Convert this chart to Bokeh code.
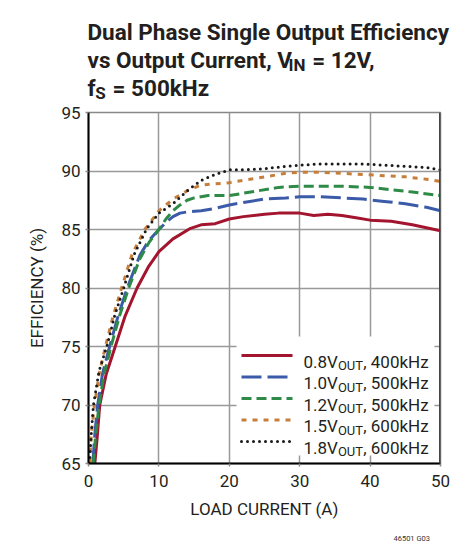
from bokeh.plotting import figure
from bokeh.models import Range1d, Span
from bokeh.layouts import column
from bokeh.core.properties import value
from bokeh.embed import file_html
from bokeh.resources import INLINE

# ---------------- data ----------------
x_ticks = [0, 10, 20, 30, 40, 50]
y_ticks = [65, 70, 75, 80, 85, 90, 95]

vout_labels = ["0.8V", "1.0V", "1.2V", "1.5V", "1.8V"]
freq_labels = [", 400kHz", ", 500kHz", ", 500kHz", ", 600kHz", ", 600kHz"]

red_x = [0.9, 1.2, 1.6, 2.5, 3.8, 5.2, 6.9, 8.5, 10, 12, 14.5, 16, 18, 20, 22, 25, 27, 30, 32, 34, 36, 38, 40, 43, 46, 50]
red_y = [65, 67, 70, 72.6, 75, 77.6, 80, 81.8, 83.1, 84.2, 85.1, 85.4, 85.5, 85.9, 86.1, 86.3, 86.4, 86.4, 86.2, 86.3, 86.2, 86.0, 85.8, 85.7, 85.4, 84.9]

blue_x = [0.6, 0.9, 1.3, 2.0, 3.0, 4.2, 5.5, 7.3, 8.5, 10, 11, 12, 13, 14, 16, 18, 20, 22, 25, 28, 30, 33, 36, 39, 42, 45, 48, 50]
blue_y = [65, 67.5, 70, 72.7, 75, 77.6, 80, 82.8, 84.0, 85.0, 85.6, 86.1, 86.4, 86.5, 86.6, 86.8, 87.1, 87.3, 87.6, 87.7, 87.8, 87.8, 87.7, 87.6, 87.4, 87.2, 86.9, 86.6]

green_x = [0.7, 1.0, 1.5, 2.2, 3.2, 4.4, 5.7, 7.3, 8.6, 10, 11, 12, 13, 14, 15, 17, 20, 22, 24, 27, 30, 33, 36, 40, 43, 46, 50]
green_y = [65, 67.3, 70, 72.6, 75, 77.6, 80, 82.5, 83.9, 85.0, 85.9, 86.6, 87.1, 87.5, 87.7, 87.9, 87.9, 88.1, 88.3, 88.6, 88.7, 88.7, 88.7, 88.6, 88.4, 88.2, 87.9]

orange_x = [0.15, 0.4, 0.85, 1.5, 2.4, 3.5, 4.7, 6.2, 8.0, 10, 12, 14, 16, 18, 20, 22, 25, 28, 30, 33, 36, 39, 42, 45, 48, 50]
orange_y = [65, 67.5, 70, 72.6, 75, 77.6, 80, 82.9, 85.0, 86.6, 87.6, 88.3, 88.8, 88.9, 89.0, 89.2, 89.5, 89.8, 89.9, 89.9, 89.8, 89.7, 89.6, 89.5, 89.3, 89.1]

black_x = [0.15, 0.4, 0.7, 1.5, 2.6, 3.7, 5.0, 6.5, 8.3, 10, 12, 14, 16, 18, 20, 22, 25, 28, 30, 33, 36, 39, 42, 45, 48, 50]
black_y = [65, 67.6, 70, 72.9, 75, 77.6, 80, 82.9, 85.1, 86.4, 87.2, 88.3, 89.2, 89.7, 90.1, 90.1, 90.2, 90.4, 90.5, 90.6, 90.6, 90.6, 90.5, 90.4, 90.3, 90.1]

# ---------------- style ----------------
FONT = "Roboto"
TXT = "#231f20"
colors = ["#a3152f", "#3b5ba9", "#2e8a47", "#c77e3b", "#1a1a1a"]
dashes = ["solid", "20 6", "10 5", "5 6", "0 6"]
caps = ["butt", "butt", "butt", "butt", "round"]

PW = 464                      # page width
TH = 104                      # title strip height
FL, FT, FW, FH = 88, 112, 352, 351   # plot frame on the page
MAIN_H = 424
FOOT_H = 15
X0, X1, Y0, Y1 = 0, 50, 65, 95

# Roboto advance widths (em) for placing subscript runs
REG = {' ': .248, ',': .197, '.': .264, '=': .549, 'V': .636, 'I': .272, 'N': .713,
       'O': .689, 'U': .647, 'T': .611, 'S': .594, 'k': .507, 'H': .713, 'z': .496, 'f': .347}
BOLD = {' ': .243, ',': .221, '.': .27, '=': .55, 'v': .497, 's': .516, 'O': .689, 'u': .552,
        't': .327, 'p': .561, 'C': .652, 'r': .348, 'e': .529, 'n': .553, 'V': .652, 'I': .284,
        'N': .707, 'f': .347, 'S': .607, 'k': .523, 'H': .703, 'z': .498}

def tw(s, size, bold=False):
    tab = BOLD if bold else REG
    return sum(tab.get(ch, .562) for ch in s) * size

def runs_layout(px, runs, size, sub_size, sub_drop, bold=False):
    out = []
    x = px
    for txt, is_sub in runs:
        sz = sub_size if is_sub else size
        lead = len(txt) - len(txt.lstrip(" "))
        if lead:
            x += tw(" " * lead, sz, bold) + 1.5
            txt = txt.lstrip(" ")
        out.append((x, sub_drop if is_sub else 0, txt, sz))
        x += tw(txt, sz, bold)
    return out

def strip_fig(h, y_top, y_bot):
    f = figure(width=PW, height=h, x_range=Range1d(0, PW), y_range=Range1d(y_bot, y_top),
               output_backend="svg", toolbar_location=None, min_border=0,
               min_border_left=0, min_border_right=0, min_border_top=0, min_border_bottom=0,
               x_axis_location=None, y_axis_location=None, outline_line_color=None)
    f.frame_align = False
    f.grid.visible = False
    f.background_fill_color = "white"
    f.border_fill_color = "white"
    return f

def put(fig, items, bold, color=TXT):
    for (x, y, txt, sz) in items:
        fig.text(x=[x], y=[y], text=[txt], text_font=value(FONT), text_font_size=value(f"{sz}px"),
                 text_font_style="bold" if bold else "normal", text_color=color,
                 text_align="left", text_baseline="alphabetic")

# ---------------- title strip (page coordinates) ----------------
tfig = strip_fig(TH, 0, TH)
TS, TSS = 22.5, 17
title_items = [(87, 31, "Dual Phase Single Output Efficiency", TS)]
for (x, dy, txt, sz) in runs_layout(87, [("vs Output Current, V", False), ("IN", True), (" = 12V,", False)], TS, TSS, 5, True):
    title_items.append((x, 59.5 + dy, txt, sz))
for (x, dy, txt, sz) in runs_layout(87, [("f", False), ("S", True), (" = 500kHz", False)], TS, TSS, 5, True):
    title_items.append((x, 87.5 + dy, txt, sz))
put(tfig, title_items, True)

# ---------------- main plot ----------------
p = figure(width=PW, height=MAIN_H, x_range=Range1d(X0, X1), y_range=Range1d(Y0, Y1),
           output_backend="svg", toolbar_location=None,
           min_border_left=FL, min_border_top=FT - TH,
           min_border_right=PW - FL - FW, min_border_bottom=MAIN_H - (FT - TH) - FH)
p.frame_align = False
p.background_fill_color = "white"
p.border_fill_color = "white"
p.outline_line_color = "#888888"
p.outline_line_width = 1.5

for ax in (p.xaxis[0], p.yaxis[0]):
    ax.axis_line_color = "black"
    ax.axis_line_width = 2
    ax.major_tick_in = 0
    ax.major_tick_out = 3
    ax.major_tick_line_color = "#888888"
    ax.major_tick_line_width = 1.5
    ax.minor_tick_line_color = None
    ax.major_label_text_font = FONT
    ax.major_label_text_font_size = "17px"
    ax.major_label_text_color = TXT
    ax.axis_label_text_font = FONT
    ax.axis_label_text_font_size = "17px"
    ax.axis_label_text_font_style = "normal"
    ax.axis_label_text_color = TXT

p.xaxis.ticker = x_ticks
p.yaxis.ticker = y_ticks
p.xaxis.axis_label = "LOAD CURRENT (A)"
p.yaxis.axis_label = "EFFICIENCY (%)"
p.xaxis.major_label_standoff = 8
p.xaxis.axis_label_standoff = 9
p.yaxis.major_label_standoff = 5
p.yaxis.axis_label_standoff = 11

p.grid.grid_line_color = "#999999"
p.grid.grid_line_width = 1.5

p.add_layout(Span(location=X1, dimension="height", line_color="#444444", line_width=3))

series = [(red_x, red_y), (blue_x, blue_y), (green_x, green_y), (orange_x, orange_y), (black_x, black_y)]
for (xs, ys), c, d, cp in zip(series, colors, dashes, caps):
    p.line(xs, ys, line_color=c, line_width=3, line_dash=d, line_cap=cp, line_join="round")

def to_x(px):
    return X0 + (px - FL) / FW * (X1 - X0)

def to_y(py):
    return Y1 - (py - FT) / FH * (Y1 - Y0)

# legend (white box hiding the grid, samples, labels with subscripts)
p.quad(left=to_x(236), right=to_x(434), top=to_y(336), bottom=to_y(455),
       fill_color="white", line_color=None)
row_y = [355, 376.5, 398, 419.5, 441]
leg_items = []
for i, ry in enumerate(row_y):
    p.segment(x0=[to_x(241)], y0=[to_y(ry)], x1=[to_x(292)], y1=[to_y(ry)],
              line_color=colors[i], line_width=3, line_dash=dashes[i], line_cap=caps[i])
    for (x, dy, txt, sz) in runs_layout(303, [(vout_labels[i], False), ("OUT", True), (freq_labels[i], False)], 17, 13, 4):
        leg_items.append((to_x(x), to_y(ry + 6 + dy), txt, sz))
put(p, leg_items, False)

# ---------------- footer strip ----------------
ffig = strip_fig(FOOT_H, TH + MAIN_H, TH + MAIN_H + FOOT_H)
put(ffig, [(393, 538, "46501 G03", 7.5)], False, "#333333")

layout = column(tfig, p, ffig, spacing=0)
open("out.html", "w").write(file_html(layout, INLINE))
